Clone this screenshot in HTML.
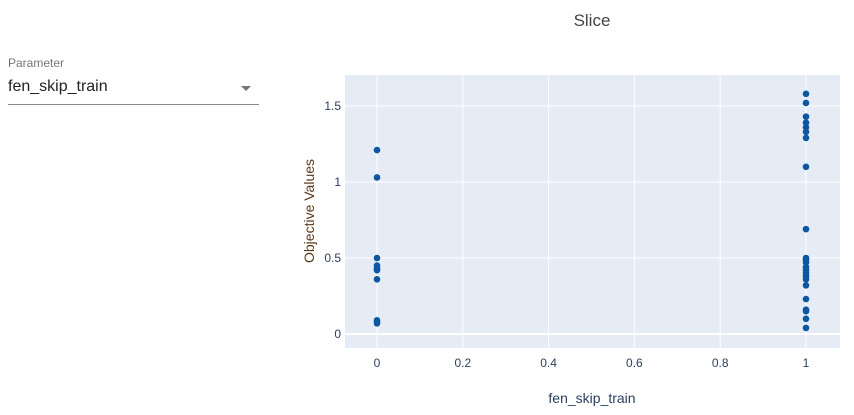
<!DOCTYPE html>
<html><head><meta charset="utf-8"><style>
body{margin:0;width:854px;height:415px;background:#fff;font-family:"Liberation Sans",sans-serif;position:relative;overflow:hidden}
.lbl{position:absolute;left:8px;top:56px;font-size:12px;color:#757575}
.sel{position:absolute;left:8px;top:78px;width:251px;height:26px;border-bottom:1px solid #8a8a8a;font-size:16px;color:#222}
.arrow{position:absolute;right:8px;top:8px;width:0;height:0;border-left:5px solid transparent;border-right:5px solid transparent;border-top:5px solid #757575}
</style></head><body>
<div class="lbl">Parameter</div>
<div class="sel">fen_skip_train<div class="arrow"></div></div>
<svg id="chart" width="854" height="415" style="position:absolute;left:0;top:0"></svg>
<script>
const xTicks=[0,0.2,0.4,0.6,0.8,1];
const xTickLabels=["0","0.2","0.4","0.6","0.8","1"];
const yTicks=[0,0.5,1,1.5];
const yTickLabels=["0","0.5","1","1.5"];
const xVals0=[0,0,0,0,0,0,0,0,0,0];
const yVals0=[1.21,1.03,0.50,0.45,0.43,0.42,0.36,0.09,0.08,0.07];
const xVals1=[1,1,1,1,1,1,1,1,1,1,1,1,1,1,1,1,1,1,1,1,1,1,1];
const yVals1=[1.58,1.52,1.43,1.39,1.36,1.33,1.29,1.10,0.69,0.50,0.49,0.47,0.44,0.42,0.40,0.38,0.36,0.32,0.23,0.16,0.15,0.10,0.04];
const ns="http://www.w3.org/2000/svg";
const svg=document.getElementById('chart');
const L=345,R=840,T=75,B=348;
const sx=v=>377+v*(806-377);
const sy=v=>334-v*152;
function mk(t,a){const e=document.createElementNS(ns,t);for(const k in a)e.setAttribute(k,a[k]);svg.appendChild(e);return e;}
const bg=mk('rect',{x:L,y:T,width:R-L,height:B-T,fill:'#e5ecf6'});


xTicks.forEach((v,i)=>{
 const g=mk('line',{x1:sx(v),x2:sx(v),y1:T,y2:B,stroke:'#fff','stroke-width':1});
 
 
 const t=mk('text',{x:sx(v),y:367,'text-anchor':'middle','font-size':12,fill:'#2a3f5f'});
 t.textContent=xTickLabels[i];
 
 
});
yTicks.forEach((v,i)=>{
 const g=mk('line',{x1:L,x2:R,y1:sy(v),y2:sy(v),stroke:'#fff','stroke-width':v===0?2:1});
 
 
 const t=mk('text',{x:341,y:sy(v)+4,'text-anchor':'end','font-size':12,fill:'#2a3f5f'});
 t.textContent=yTickLabels[i];
 
 
});
[[xVals0,yVals0],[xVals1,yVals1]].forEach(([xs,ys])=>{
 xs.forEach((x,i)=>{
  const c=mk('circle',{cx:sx(x),cy:sy(ys[i]),r:3.3,fill:'#0d56a0'});
  
  
 });
});
const ti=mk('text',{x:592,y:26,'text-anchor':'middle','font-size':17,fill:'#444'});ti.textContent='Slice';


const xt=mk('text',{x:592,y:403,'text-anchor':'middle','font-size':14,fill:'#2a3f5f'});xt.textContent='fen_skip_train';


const yt=mk('text',{x:0,y:0,'text-anchor':'middle','font-size':14,fill:'#5a3a1a',transform:'translate(314,211) rotate(-90)'});yt.textContent='Objective Values';


</script>
</body></html>
